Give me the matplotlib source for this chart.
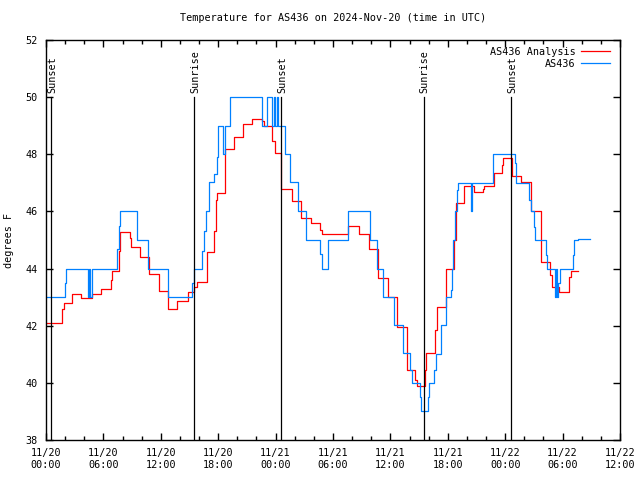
import matplotlib
matplotlib.use("Agg")
import matplotlib.pyplot as plt
from matplotlib.ticker import MultipleLocator

# hours since 2024-11-20 00:00 UTC, values in degrees F (step data)
analysis_t = [0, 1.7, 1.85, 2.75, 3.7, 4.8, 5.7, 6.75, 6.9, 7.6, 7.75, 8.8, 8.9, 9.8,
              10.77, 11.8, 12.8, 13.7, 14.8, 15.47, 15.75, 16.8, 17.6, 17.75, 17.9,
              18.7, 19.7, 20.6, 21.5, 22.6, 22.75, 23.65, 23.9, 24.56, 25.7, 26.7,
              27.7, 28.6, 28.8, 29.5, 31.6, 32.7, 33.8, 34.7, 35.7, 36.7, 37.7, 38.6,
              38.8, 39.6, 39.75, 40.7, 40.85, 41.8, 42.7, 42.85, 43.7, 44.7, 45.7,
              45.8, 46.8, 47.7, 47.8, 48.7, 49.7, 50.7, 51.7, 52.7, 52.85, 53.65,
              54.7, 54.85, 55.6]
analysis_v = [42.1, 42.6, 42.8, 43.1, 42.96, 43.1, 43.3, 43.6, 43.9, 44.6, 45.27, 45.06,
              44.77, 44.42, 43.8, 43.23, 42.6, 42.85, 43.19, 43.34, 43.54, 44.57, 45.3,
              46.4, 46.63, 48.2, 48.6, 49.05, 49.22, 49.15, 49.0, 48.45, 48.03, 46.8,
              46.36, 45.76, 45.58, 45.35, 45.2, 45.22, 45.5, 45.2, 44.7, 43.66, 43.02,
              41.97, 40.45, 40.1, 39.89, 40.45, 41.03, 41.85, 42.64, 43.98, 45.0, 46.3,
              46.9, 46.67, 46.8, 46.9, 47.33, 47.62, 47.86, 47.24, 47.02, 46.0, 44.22,
              43.77, 43.37, 43.17, 43.72, 43.92, 43.92]

obs_t = [0, 2.0, 2.1, 4.35, 4.5, 4.6, 4.77, 7.45, 7.6, 7.7, 9.55, 10.7, 12.8, 15.3,
         15.47, 16.3, 16.55, 16.7, 17.07, 17.6, 17.9, 18.0, 18.5, 18.7, 19.23, 22.6,
         23.1, 23.65, 23.85, 23.95, 24.1, 24.3, 25.0, 25.5, 26.3, 27.2, 28.6, 28.8,
         29.5, 31.6, 33.9, 34.6, 35.2, 36.4, 37.35, 38.05, 38.3, 39.1, 39.25, 39.9,
         40.05, 40.6, 40.75, 41.3, 41.8, 42.3, 42.4, 42.55, 42.8, 42.95, 43.05, 44.4,
         44.55, 46.7, 49.0, 49.15, 50.5, 50.65, 51.0, 51.15, 52.3, 52.4, 53.2, 53.3,
         53.4, 53.5, 53.7, 55.1, 55.2, 55.6, 56.9]
obs_v = [43.0, 43.5, 44.0, 43.0, 44.0, 43.0, 44.0, 44.7, 45.5, 46.0, 45.0, 44.0, 43.0,
         43.5, 44.0, 44.6, 45.3, 46.0, 47.04, 47.3, 47.9, 49.0, 48.0, 49.0, 50.0, 49.0,
         50.0, 49.0, 50.0, 49.0, 50.0, 49.0, 48.0, 47.04, 46.0, 45.0, 44.5, 44.0, 45.0,
         46.0, 45.0, 44.0, 43.02, 42.02, 41.03, 40.45, 40.0, 39.5, 39.0, 39.5, 40.0,
         40.45, 41.0, 42.02, 43.02, 43.25, 44.0, 45.0, 46.0, 46.75, 47.0, 46.0, 47.0,
         48.0, 47.7, 47.0, 46.4, 46.0, 45.47, 45.0, 44.47, 44.0, 43.0, 44.0, 43.0, 43.5,
         44.0, 44.47, 45.0, 45.02, 45.02]

sun_t = [0.52, 15.47, 24.56, 39.5, 48.6]
sun_labels = ["Sunset", "Sunrise", "Sunset", "Sunrise", "Sunset"]

xtick_labels = ["11/20\n00:00", "11/20\n06:00", "11/20\n12:00", "11/20\n18:00",
                "11/21\n00:00", "11/21\n06:00", "11/21\n12:00", "11/21\n18:00",
                "11/22\n00:00", "11/22\n06:00", "11/22\n12:00"]

plt.rcParams['font.family'] = ['DejaVu Sans Mono']
plt.rcParams['font.size'] = 7.3

fig = plt.figure(figsize=(6.4, 4.8), dpi=100)
ax = fig.add_axes([46/640, 40/480, 574/640, 400/480])

ax.plot(analysis_t, analysis_v, drawstyle='steps-post', color='#ff0000', lw=0.9,
        label='AS436 Analysis')
ax.plot(obs_t, obs_v, drawstyle='steps-post', color='#0080ff', lw=0.9, label='AS436')

for t, lab in zip(sun_t, sun_labels):
    ax.plot([t, t], [38, 50], color='black', lw=0.9)
    ax.text(t + 0.1, 50.15, lab, rotation=90, ha='center', va='bottom')

ax.set_xlim(0, 60)
ax.set_ylim(38, 52)
ax.set_xticks(range(0, 61, 6))
ax.set_xticklabels(xtick_labels)
ax.xaxis.set_minor_locator(MultipleLocator(2))
ax.set_yticks(range(38, 53, 2))
ax.tick_params(which='both', direction='in', top=True, right=True, width=1)
ax.tick_params(which='major', length=5, pad=6)
ax.tick_params(which='minor', length=3)
for s in ax.spines.values():
    s.set_linewidth(1.0)

ax.set_ylabel('degrees F', labelpad=8)
ax.set_title('Temperature for AS436 on 2024-Nov-20 (time in UTC)', fontsize=7.3, pad=14)

ax.legend(loc='upper right', bbox_to_anchor=(1.0, 1.008), frameon=False,
          markerfirst=False, handlelength=2.8, borderaxespad=0.6,
          labelspacing=0.2, handletextpad=0.6)

fig.savefig('out.png', dpi=100)
